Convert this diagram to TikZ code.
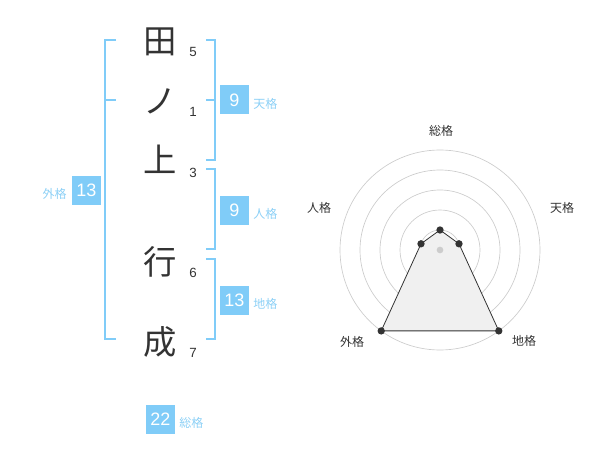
\documentclass[tikz,border=0pt]{standalone}
\usepackage{fontspec}
\setmainfont{Liberation Sans}
\newfontfamily\jp{Noto Sans CJK JP}
\definecolor{brk}{HTML}{80CCF8}
\definecolor{lbl}{HTML}{8CD0F6}
\definecolor{ink}{HTML}{333333}
\definecolor{ring}{HTML}{CCCCCC}
\definecolor{area}{HTML}{F0F0F0}
\begin{document}
\begin{tikzpicture}[x=0.75pt,y=-0.75pt,
  kanji/.style={font=\jp\fontsize{25}{25}\selectfont, text=ink, inner sep=0pt},
  stroke/.style={font=\fontsize{10}{10}\selectfont, text=ink, inner sep=0pt},
  numbox/.style={fill=brk, text=white, font=\fontsize{13.5}{13.5}\selectfont, minimum width=21.75pt, minimum height=21.75pt, inner sep=0pt},
  kaku/.style={font=\jp\fontsize{9}{9}\selectfont, text=lbl, inner sep=0pt},
  bracket/.style={draw=brk, line width=1.5pt},
  rlabel/.style={font=\jp\fontsize{9}{9}\selectfont, text=ink, inner sep=0pt},
  ringc/.style={draw=ring, line width=0.5pt},
  dot/.style={circle, fill=ink, inner sep=0pt, minimum size=5.5pt}]
\useasboundingbox (0,0) rectangle (600,470);
% characters
\node[kanji] (c1) at (160,42) {田};
\node[kanji] (c2) at (160,101) {ノ};
\node[kanji] (c3) at (160,159) {上};
\node[kanji] (c4) at (160,262) {行};
\node[kanji] (c5) at (160,342) {成};
\node[stroke] (s1) at (193,52) {5};
\node[stroke] (s2) at (193,112) {1};
\node[stroke] (s3) at (193,173) {3};
\node[stroke] (s4) at (193,273) {6};
\node[stroke] (s5) at (193,353) {7};
% left bracket
\coordinate (la) at (116,40);
\coordinate (lb) at (116,100);
\coordinate (lc) at (116,339.5);
\draw[bracket] (la) -| (105,339.5) -- (lc);
\draw[bracket] (105,100) -- (lb);
% right brackets
\draw[bracket] (206,40) -| (215,160) -- (206,160);
\draw[bracket] (206,100) -- (215,100);
\draw[bracket] (206,169.5) -| (215,249.5) -- (206,249.5);
\draw[bracket] (206,259.5) -| (215,339.5) -- (206,339.5);
% boxes
\node[numbox] (bt) at (234.5,100) {9};
\node[kaku, anchor=west] (lt) at (253,104) {天格};
\node[numbox] (bj) at (234.5,210.5) {9};
\node[kaku, anchor=west] (lj) at (253,214) {人格};
\node[numbox] (bc) at (234.5,300.5) {13};
\node[kaku, anchor=west] (lc2) at (253,304) {地格};
\node[numbox] (bg) at (86.5,190.5) {13};
\node[kaku, anchor=east] (lg) at (67,193.5) {外格};
\node[numbox] (bs) at (160.5,419.5) {22};
\node[kaku, anchor=west] (ls) at (179,422.5) {総格};
% radar
\coordinate (o) at (440,250);
\foreach \r in {20,40,60,80,100} \draw[ringc] (o) circle[radius=\r];
\coordinate (p1) at (440,230);
\coordinate (p2) at (459.0,243.8);
\coordinate (p3) at (498.8,330.9);
\coordinate (p4) at (381.2,330.9);
\coordinate (p5) at (421.0,243.8);
\draw[ink, fill=area, line width=0.6pt] (p1) -- (p2) -- (p3) -- (p4) -- (p5) -- cycle;
\node[circle, fill=ring, inner sep=0pt, minimum size=5pt] (oc) at (o) {};
\foreach \i in {1,...,5} \node[dot] (d\i) at (p\i) {};
\node[rlabel] (r1) at (441,131) {総格};
\node[rlabel] (r2) at (562,208) {天格};
\node[rlabel] (r5) at (319,208) {人格};
\node[rlabel] (r4) at (352,342) {外格};
\node[rlabel] (r3) at (524,341) {地格};
\end{tikzpicture}
\end{document}
